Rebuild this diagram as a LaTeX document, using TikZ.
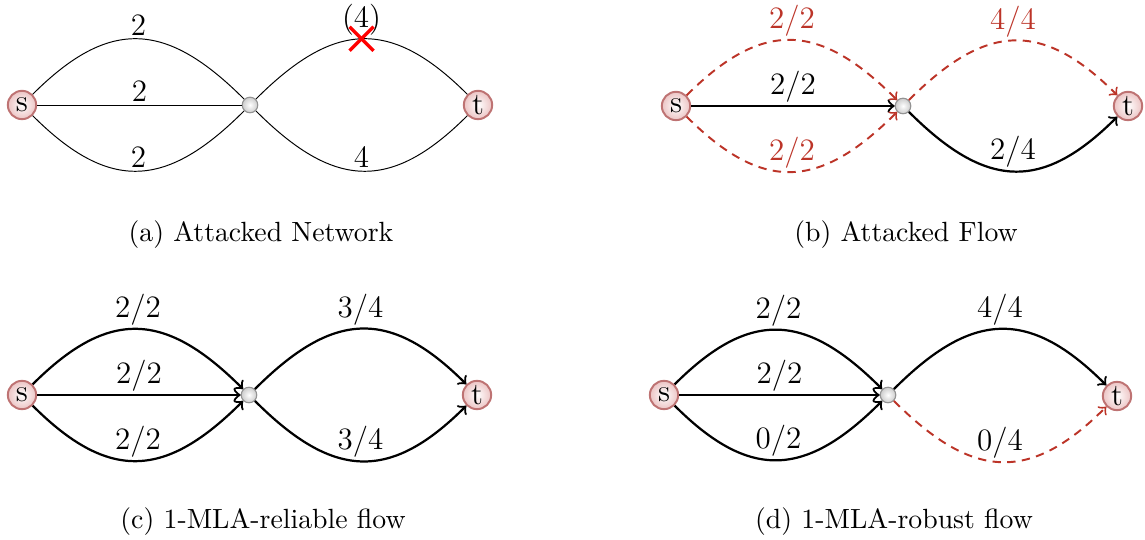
\documentclass[tikz,border=0pt]{standalone}
\usepackage{tikz}
\usetikzlibrary{arrows}
\definecolor{attred}{RGB}{188,52,40}
\definecolor{nodeborder}{RGB}{190,115,115}
\definecolor{nodeouter}{RGB}{236,196,196}
\tikzset{
  term/.style={circle, draw=nodeborder, line width=0.7pt, shading=radial, inner color=white, outer color=nodeouter, minimum size=10.2pt, inner sep=0pt, font=\fontsize{11.2}{13}\selectfont},
  hub/.style={circle, draw=gray!85, line width=0.4pt, shading=radial, inner color=white, outer color=gray!40, minimum size=5.6pt, inner sep=0pt},
  lbl/.style={above, inner sep=1pt, font=\fontsize{11.2}{13}\selectfont},
  rlbl/.style={lbl, text=attred},
  thinedge/.style={line width=0.35pt},
  flow/.style={->, line width=0.8pt},
  cutedge/.style={->, dash pattern=on 3pt off 2.3pt, line width=0.7pt, draw=attred},
  bendup/.style={out=45, in=135, looseness=1.32},
  benddown/.style={out=-45, in=-135, looseness=1.32},
  captxt/.style={font=\fontsize{10}{12}\selectfont},
}
\begin{document}
\begin{tikzpicture}[x=0.36pt, y=-0.36pt]
\useasboundingbox (0,0) rectangle (1145,540);
% (a)
\node[term] (as) at (22,105) {s};
\node[hub]  (am) at (250,105) {};
\node[term] (at) at (478,105) {t};
\draw[thinedge] (as) to[bendup] node[lbl] (la1) {2} (am);
\draw[thinedge] (as) -- node[lbl] (la2) {2} (am);
\draw[thinedge] (as) to[benddown] node[lbl] (la3) {2} (am);
\draw[thinedge] (am) to[bendup] node[lbl] (la4) {(4)} coordinate[pos=0.5] (xmark) (at);
\draw[thinedge] (am) to[benddown] node[lbl] (la5) {4} (at);
\draw[red, line width=1.2pt] ([shift={(-12,-12)}]xmark) -- ([shift={(12,12)}]xmark);
\draw[red, line width=1.2pt] ([shift={(-12,12)}]xmark) -- ([shift={(12,-12)}]xmark);
\node[captxt] (capa) at (261,235) {(a) Attacked Network};
% (b)
\node[term] (bs) at (676,106) {s};
\node[hub]  (bm) at (903,106) {};
\node[term] (bt) at (1128,106) {t};
\draw[cutedge] (bs) to[bendup] node[rlbl] (lb1) {2/2} (bm);
\draw[flow] (bs) -- node[lbl] (lb2) {2/2} (bm);
\draw[cutedge] (bs) to[benddown] node[rlbl] (lb3) {2/2} (bm);
\draw[cutedge] (bm) to[bendup] node[rlbl] (lb4) {4/4} (bt);
\draw[flow] (bm) to[benddown] node[lbl] (lb5) {2/4} (bt);
\node[captxt] (capb) at (906,235) {(b) Attacked Flow};
% (c)
\node[term] (cs) at (22,395) {s};
\node[hub]  (cm) at (249,395) {};
\node[term] (ct) at (477,395) {t};
\draw[flow] (cs) to[bendup] node[lbl] (lc1) {2/2} (cm);
\draw[flow] (cs) -- node[lbl] (lc2) {2/2} (cm);
\draw[flow] (cs) to[benddown] node[lbl] (lc3) {2/2} (cm);
\draw[flow] (cm) to[bendup] node[lbl] (lc4) {3/4} (ct);
\draw[flow] (cm) to[benddown] node[lbl] (lc5) {3/4} (ct);
\node[captxt] (capc) at (263,522) {(c) 1-MLA-reliable flow};
% (d)
\node[term] (ds) at (664,395) {s};
\node[hub]  (dm) at (888,395) {};
\node[term] (dt) at (1117,396) {t};
\draw[flow] (ds) to[bendup] node[lbl] (ld1) {2/2} (dm);
\draw[flow] (ds) -- node[lbl] (ld2) {2/2} (dm);
\draw[flow] (ds) to[benddown] node[lbl] (ld3) {0/2} (dm);
\draw[flow] (dm) to[bendup] node[lbl] (ld4) {4/4} (dt);
\draw[cutedge] (dm) to[benddown] node[lbl] (ld5) {0/4} (dt);
\node[captxt] (capd) at (894,522) {(d) 1-MLA-robust flow};
\end{tikzpicture}
\end{document}
